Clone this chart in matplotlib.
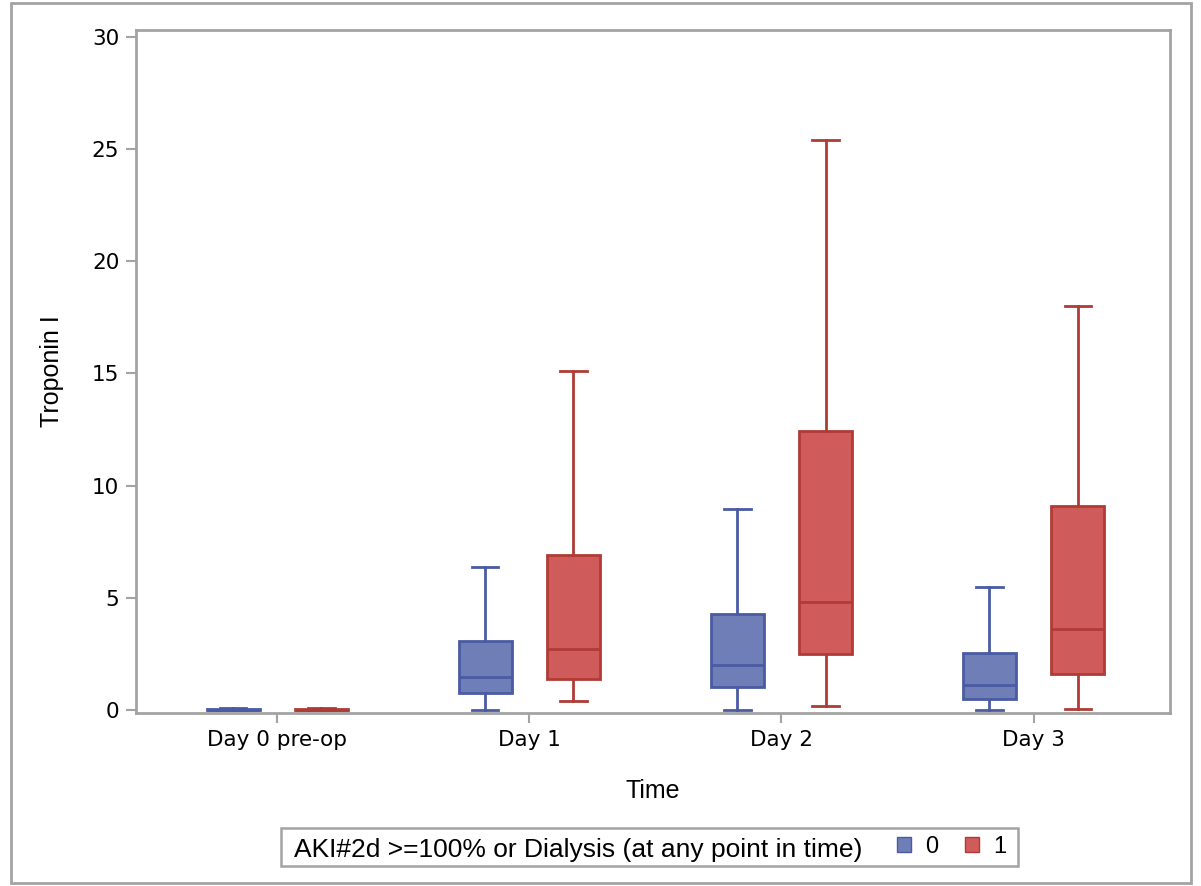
import matplotlib.pyplot as plt
from matplotlib.patches import Patch, Rectangle

# Troponin I box stats, per time point
days = ['Day 0 pre-op', 'Day 1', 'Day 2', 'Day 3']
groups = ['0', '1']
legend_title = 'AKI#2d >=100% or Dialysis (at any point in time)'

# (whisker low, Q1, median, Q3, whisker high)
stats_0 = [
    (0.0, 0.0, 0.02, 0.05, 0.07),
    (0.0, 0.76, 1.47, 3.08, 6.38),
    (0.0, 1.03, 2.0, 4.29, 8.97),
    (0.0, 0.5, 1.1, 2.54, 5.5),
]
stats_1 = [
    (0.0, 0.0, 0.02, 0.05, 0.07),
    (0.4, 1.38, 2.72, 6.9, 15.1),
    (0.18, 2.5, 4.8, 12.45, 25.4),
    (0.05, 1.6, 3.6, 9.1, 18.0),
]

fill = {'0': '#6f7eb7', '1': '#d05b5b'}
edge = {'0': '#4a5ba3', '1': '#b03b36'}
grey = '#a3a3a3'

fig = plt.figure(figsize=(12.01, 8.86), dpi=100)
ax = fig.add_axes([0.1132, 0.1953, 0.8608, 0.7708])

def to_bxp(s):
    lo, q1, med, q3, hi = s
    return {'whislo': lo, 'q1': q1, 'med': med, 'q3': q3, 'whishi': hi, 'fliers': []}

offset = 0.175
for g, stats, sign in [('0', stats_0, -1), ('1', stats_1, 1)]:
    pos = [i + sign * offset for i in range(len(days))]
    ax.bxp([to_bxp(s) for s in stats], positions=pos, widths=0.21,
           patch_artist=True, showfliers=False, manage_ticks=False,
           boxprops=dict(facecolor=fill[g], edgecolor=edge[g], linewidth=2),
           medianprops=dict(color=edge[g], linewidth=2),
           whiskerprops=dict(color=edge[g], linewidth=2),
           capprops=dict(color=edge[g], linewidth=2),
           capwidths=0.105)

ax.set_xlim(-0.56, 3.54)
ax.set_ylim(-0.13, 30.3)
ax.set_yticks([0, 5, 10, 15, 20, 25, 30])
ax.set_xticks(range(len(days)))
ax.set_xticklabels(days)

for sp in ax.spines.values():
    sp.set_color(grey)
    sp.set_linewidth(2)
ax.tick_params(colors=grey, width=1.5, length=7, labelcolor='black',
               labelsize=15.5, pad=5)
for lab in ax.get_xticklabels() + ax.get_yticklabels():
    lab.set_family('DejaVu Sans')

ax.set_xlabel('Time', fontsize=18, family='Liberation Sans', labelpad=21)
ax.set_ylabel('Troponin I', fontsize=18, family='Liberation Sans', labelpad=20)

# legend: frame, inline title, then the two group swatches
W, H = 1201.0, 886.0
fig.patches.append(Rectangle((281 / W, 1 - 866 / H), 737 / W, 38 / H, transform=fig.transFigure,
                             fill=False, edgecolor=grey, linewidth=1.8))
fig.text(294 / W, 1 - 847 / H, legend_title, family='Liberation Sans', fontsize=19,
         ha='left', va='center_baseline')
handles = [Patch(facecolor=fill[g], edgecolor=edge[g]) for g in groups]
leg = fig.legend(handles, groups, ncol=2, loc='center right',
                 bbox_to_anchor=(1006 / W, 1 - 847 / H),
                 prop={'family': 'Liberation Sans', 'size': 17},
                 handlelength=0.6, handleheight=0.6, handletextpad=0.6,
                 columnspacing=1.1, frameon=False, borderpad=0, borderaxespad=0)

# outer border around the whole graph
fig.patches.append(Rectangle((0.0095, 0.0034), 0.982, 0.9932, transform=fig.transFigure,
                             fill=False, edgecolor=grey, linewidth=2))

fig.savefig('out.png', dpi=100)
